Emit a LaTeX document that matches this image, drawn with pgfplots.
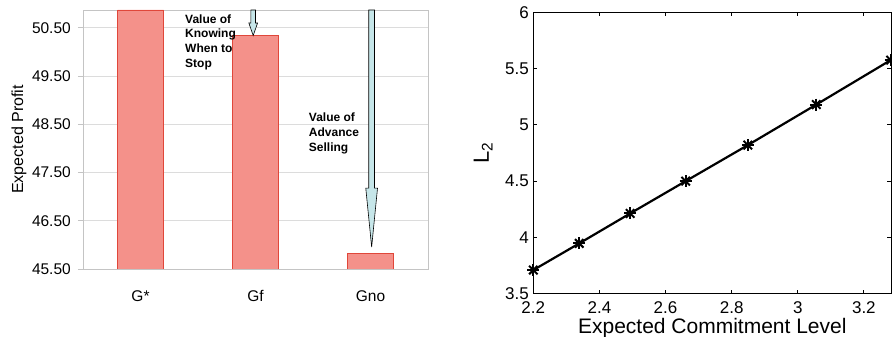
\documentclass[border=0pt]{standalone}
\usepackage{fontspec}
\setmainfont{Liberation Sans}
\usepackage{pgfplots}
\pgfplotsset{compat=1.18}
\definecolor{barfill}{HTML}{F4918A}
\definecolor{baredge}{HTML}{E0473A}
\definecolor{arrowfill}{HTML}{C6E6E9}
\definecolor{gridgray}{HTML}{DCDCDC}
\definecolor{framegray}{HTML}{C4C4C4}
\begin{document}
\begin{tikzpicture}
\useasboundingbox (0pt,0pt) rectangle (892pt,337pt);
% ---------------- left: bar chart ----------------
\begin{axis}[
  at={(83pt,68pt)}, anchor=south west, scale only axis,
  width=345pt, height=259pt,
  xmin=-0.5, xmax=2.5, ymin=45.5, ymax=50.87,
  /pgf/number format/assume math mode=true,
  xtick={0,1,2}, xticklabels={G*,Gf,Gno},
  xtick pos=bottom, ytick pos=left,
  x tick style={draw=none},
  extra x ticks={-0.5,0.5,1.5,2.5}, extra x tick labels={},
  extra x tick style={tick align=outside, major tick length=6pt,
     tick style={draw=framegray, line width=0.8pt}},
  ytick={45.5,46.5,47.5,48.5,49.5,50.5},
  yticklabel style={/pgf/number format/fixed, /pgf/number format/fixed zerofill,
     /pgf/number format/precision=2, anchor=east, xshift=-7pt},
  y tick style={draw=framegray, line width=0.8pt},
  tick align=outside, major tick length=5pt,
  ymajorgrids, grid style={gridgray, line width=0.8pt},
  axis line style={framegray, line width=0.8pt},
  tick label style={font=\fontsize{15.5}{18}\selectfont, inner sep=0pt},
  xticklabel style={anchor=base, yshift=-28pt},
  ylabel={Expected Profit},
  ylabel style={font=\fontsize{16}{19}\selectfont, at={(axis description cs:-0.1855,0.5)}, rotate=0, anchor=center},
]
\addplot[ybar, bar width=0.4, bar shift=0pt, fill=barfill, draw=baredge, line width=0.8pt]
  coordinates {(0,50.87) (1,50.34) (2,45.83)};
% arrows
\filldraw[fill=arrowfill, draw=black, line width=0.6pt]
  (axis cs:0.960,50.87) -- (axis cs:0.960,50.60) -- (axis cs:0.942,50.60) --
  (axis cs:0.980,50.34) -- (axis cs:1.018,50.60) -- (axis cs:1.000,50.60) --
  (axis cs:1.000,50.87) -- cycle;
\filldraw[fill=arrowfill, draw=black, line width=0.6pt]
  (axis cs:1.985,50.87) -- (axis cs:1.985,47.177) -- (axis cs:1.959,47.177) --
  (axis cs:2.010,45.955) -- (axis cs:2.061,47.177) -- (axis cs:2.035,47.177) --
  (axis cs:2.035,50.87) -- cycle;
\node[anchor=north west, inner sep=0pt, align=left,
      font=\bfseries\fontsize{12}{14.6}\selectfont]
  at (axis cs:0.387,50.78) {Value of\\Knowing\\When to\\Stop};
\node[anchor=north west, inner sep=0pt, align=left,
      font=\bfseries\fontsize{12}{14.6}\selectfont]
  at (axis cs:1.463,48.735) {Value of\\Advance\\Selling};
\end{axis}
% ---------------- right: line chart ----------------
\begin{axis}[
  at={(533.3pt,43.3pt)}, anchor=south west, scale only axis,
  width=358pt, height=281.4pt,
  xmin=2.2, xmax=3.283, ymin=3.5, ymax=6,
  /pgf/number format/assume math mode=true,
  xtick={2.2,2.4,2.6,2.8,3,3.2},
  ytick={3.5,4,4.5,5,5.5,6},
  tick align=inside, major tick length=4pt,
  tick style={black, line width=0.8pt},
  axis line style={black, line width=1.2pt},
  tick label style={font=\fontsize{17}{20}\selectfont, inner sep=0pt},
  yticklabel style={anchor=east, xshift=-4.3pt},
  xticklabel style={anchor=base, yshift=-19.5pt},
  xlabel={Expected Commitment Level},
  ylabel={L\textsubscript{2}},
  xlabel style={font=\fontsize{21}{24}\selectfont, at={(axis description cs:0.5,-0.123)}, anchor=center},
  ylabel style={font=\fontsize{22}{26}\selectfont, at={(axis description cs:-0.14,0.5)}, rotate=0, anchor=center},
]
\addplot[black, line width=2.2pt, mark=none] coordinates {
  (2.200,3.710) (2.339,3.947) (2.493,4.213) (2.661,4.500)
  (2.849,4.820) (3.056,5.180) (3.281,5.575)};
\addplot[black, only marks, mark=+, mark size=6pt, mark options={line width=2pt}] coordinates {
  (2.200,3.710) (2.339,3.947) (2.493,4.213) (2.661,4.500)
  (2.849,4.820) (3.056,5.180) (3.281,5.575)};
\addplot[black, only marks, mark=x, mark size=6pt, mark options={line width=2pt}] coordinates {
  (2.200,3.710) (2.339,3.947) (2.493,4.213) (2.661,4.500)
  (2.849,4.820) (3.056,5.180) (3.281,5.575)};
\end{axis}
\end{tikzpicture}
\end{document}
